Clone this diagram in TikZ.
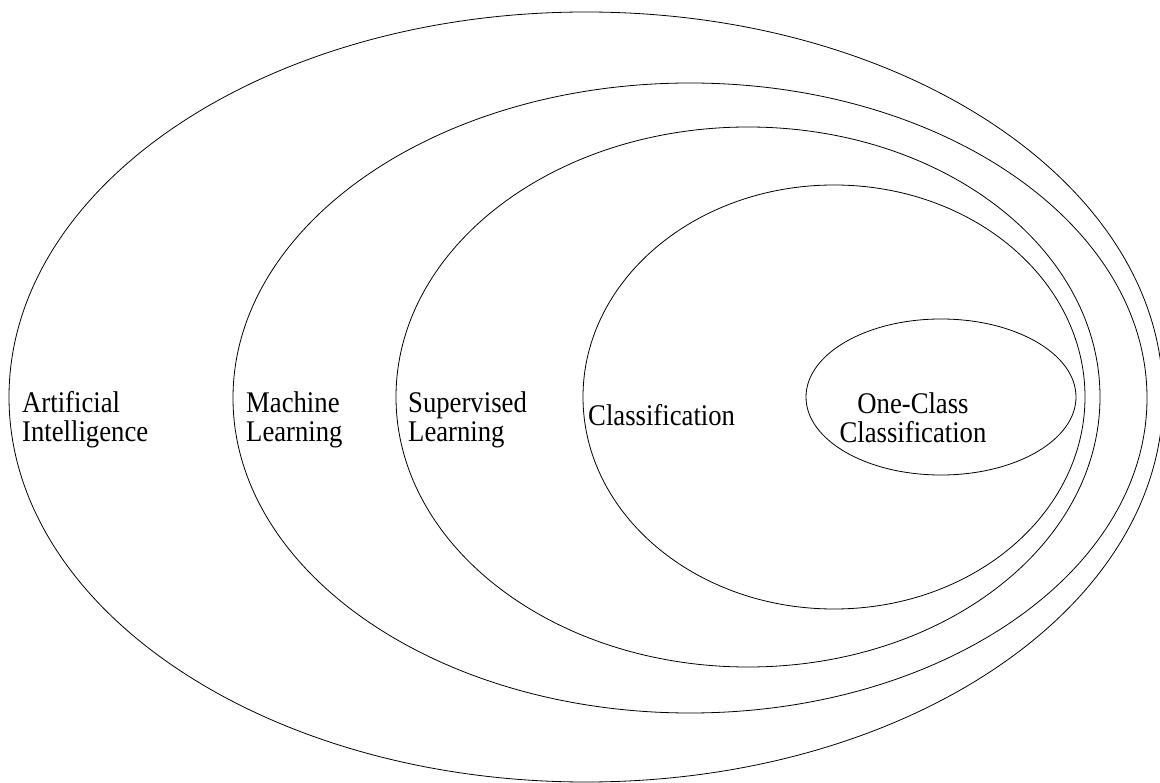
\documentclass[tikz,border=0pt]{standalone}
\usepackage{fontspec}
\setmainfont{Liberation Serif}[FakeStretch=0.89]
\begin{document}
\begin{tikzpicture}[x=1pt,y=-1pt,
  ring/.style={draw=black,line width=0.8pt},
  lbl/.style={inner sep=0pt,font=\fontsize{30}{29}\selectfont}]
\useasboundingbox (0,0) rectangle (1160,783);
\draw[ring] (586,397) ellipse [x radius=577, y radius=385];
\draw[ring] (690,398) ellipse [x radius=457, y radius=315];
\draw[ring] (748,397) ellipse [x radius=352, y radius=270];
\draw[ring] (834,397) ellipse [x radius=251, y radius=212];
\draw[ring] (941,397) ellipse [x radius=135, y radius=78];
\node[lbl,anchor=west,align=left] (ai) at (22,420) {Artificial\\Intelligence};
\node[lbl,anchor=west,align=left] (ml) at (246,420) {Machine\\Learning};
\node[lbl,anchor=west,align=left] (sl) at (408,420) {Supervised\\Learning};
\node[lbl,anchor=west] (cl) at (588,415) {Classification};
\node[lbl,align=center] (oc) at (913,418) {One-Class\\Classification};
\end{tikzpicture}
\end{document}
